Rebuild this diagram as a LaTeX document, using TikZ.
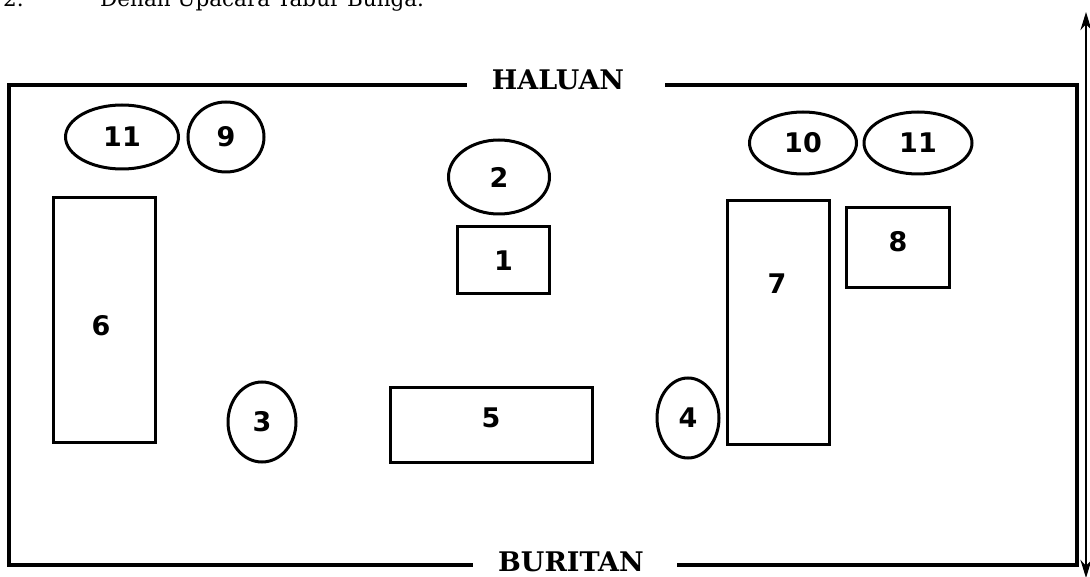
\documentclass[tikz,border=0pt]{standalone}
\usepackage{fontspec}
\setmainfont{DejaVu Serif}
\newfontfamily\numfont{DejaVu Sans}
\usetikzlibrary{shapes.geometric,arrows.meta}

\begin{document}
\begin{tikzpicture}[x=1pt,y=1pt,yscale=-1,xscale=1,
  ovalnode/.style={draw,ellipse,line width=3pt,inner sep=0pt,font=\numfont\bfseries\fontsize{27}{30}\selectfont},
  boxnode/.style={draw,rectangle,line width=3pt,inner sep=0pt,font=\numfont\bfseries\fontsize{27}{30}\selectfont},
  numlabel/.style={font=\numfont\bfseries\fontsize{27}{30}\selectfont}]
\useasboundingbox (0,0) rectangle (1090,577);

%Judul
\node [anchor=base west,inner sep=0pt,font=\fontsize{21.5}{26}\selectfont] (nomor) at (3,7) {2.};
\node [anchor=base west,inner sep=0pt,font=\fontsize{21.5}{26}\selectfont] (judul) at (100,7) {Denah Upacara Tabur Bunga.};

%Bingkai kapal
\draw [line width=3.4pt] (467,85) -- (9,85) -- (9,565) -- (473,565) ;
\draw [line width=3.4pt] (665,85) -- (1077,85) -- (1077,565) -- (677,565) ;
\node [font=\bfseries\fontsize{27}{30}\selectfont] (haluan) at (558,80) {HALUAN};
\node [font=\bfseries\fontsize{27}{30}\selectfont] (buritan) at (571,562) {BURITAN};

%Panah arah
\coordinate (arrTop) at (1086,12);
\coordinate (arrBot) at (1086,578);
\draw [line width=2.6pt,{Stealth[length=18pt,width=11pt]}-{Stealth[length=18pt,width=11pt]}] (arrTop) -- (arrBot) ;

%Lingkaran
\node [ovalnode,minimum width=113pt,minimum height=64pt] (o11a) at (122,137) {11};
\node [ovalnode,minimum width=76pt,minimum height=70pt] (o9) at (226,137) {9};
\node [ovalnode,minimum width=101pt,minimum height=74pt] (o2) at (499,177) {2};
\node [ovalnode,minimum width=68pt,minimum height=80pt] (o3) at (262,422) {3};
\node [ovalnode,minimum width=62pt,minimum height=80pt] (o4) at (688,418) {4};
\node [ovalnode,minimum width=107pt,minimum height=62pt] (o10) at (803,143) {10};
\node [ovalnode,minimum width=108pt,minimum height=62pt] (o11b) at (918,143) {11};

%Kotak
\node [boxnode,minimum width=92pt,minimum height=67pt] (k1) at (503.5,260.5) {1};
\node [boxnode,minimum width=202pt,minimum height=75pt] (k5) at (491.5,424.5) {};
\node [numlabel] (l5) at (491,418) {5};
\node [boxnode,minimum width=102pt,minimum height=244pt] (k6) at (104.5,320) {};
\node [numlabel] (l6) at (101,326) {6};
\node [boxnode,minimum width=102pt,minimum height=244pt] (k7) at (778.5,322.5) {};
\node [numlabel] (l7) at (777,284) {7};
\node [boxnode,minimum width=103pt,minimum height=80pt] (k8) at (898,247.5) {};
\node [numlabel] (l8) at (898,242) {8};

\end{tikzpicture}
\end{document}
